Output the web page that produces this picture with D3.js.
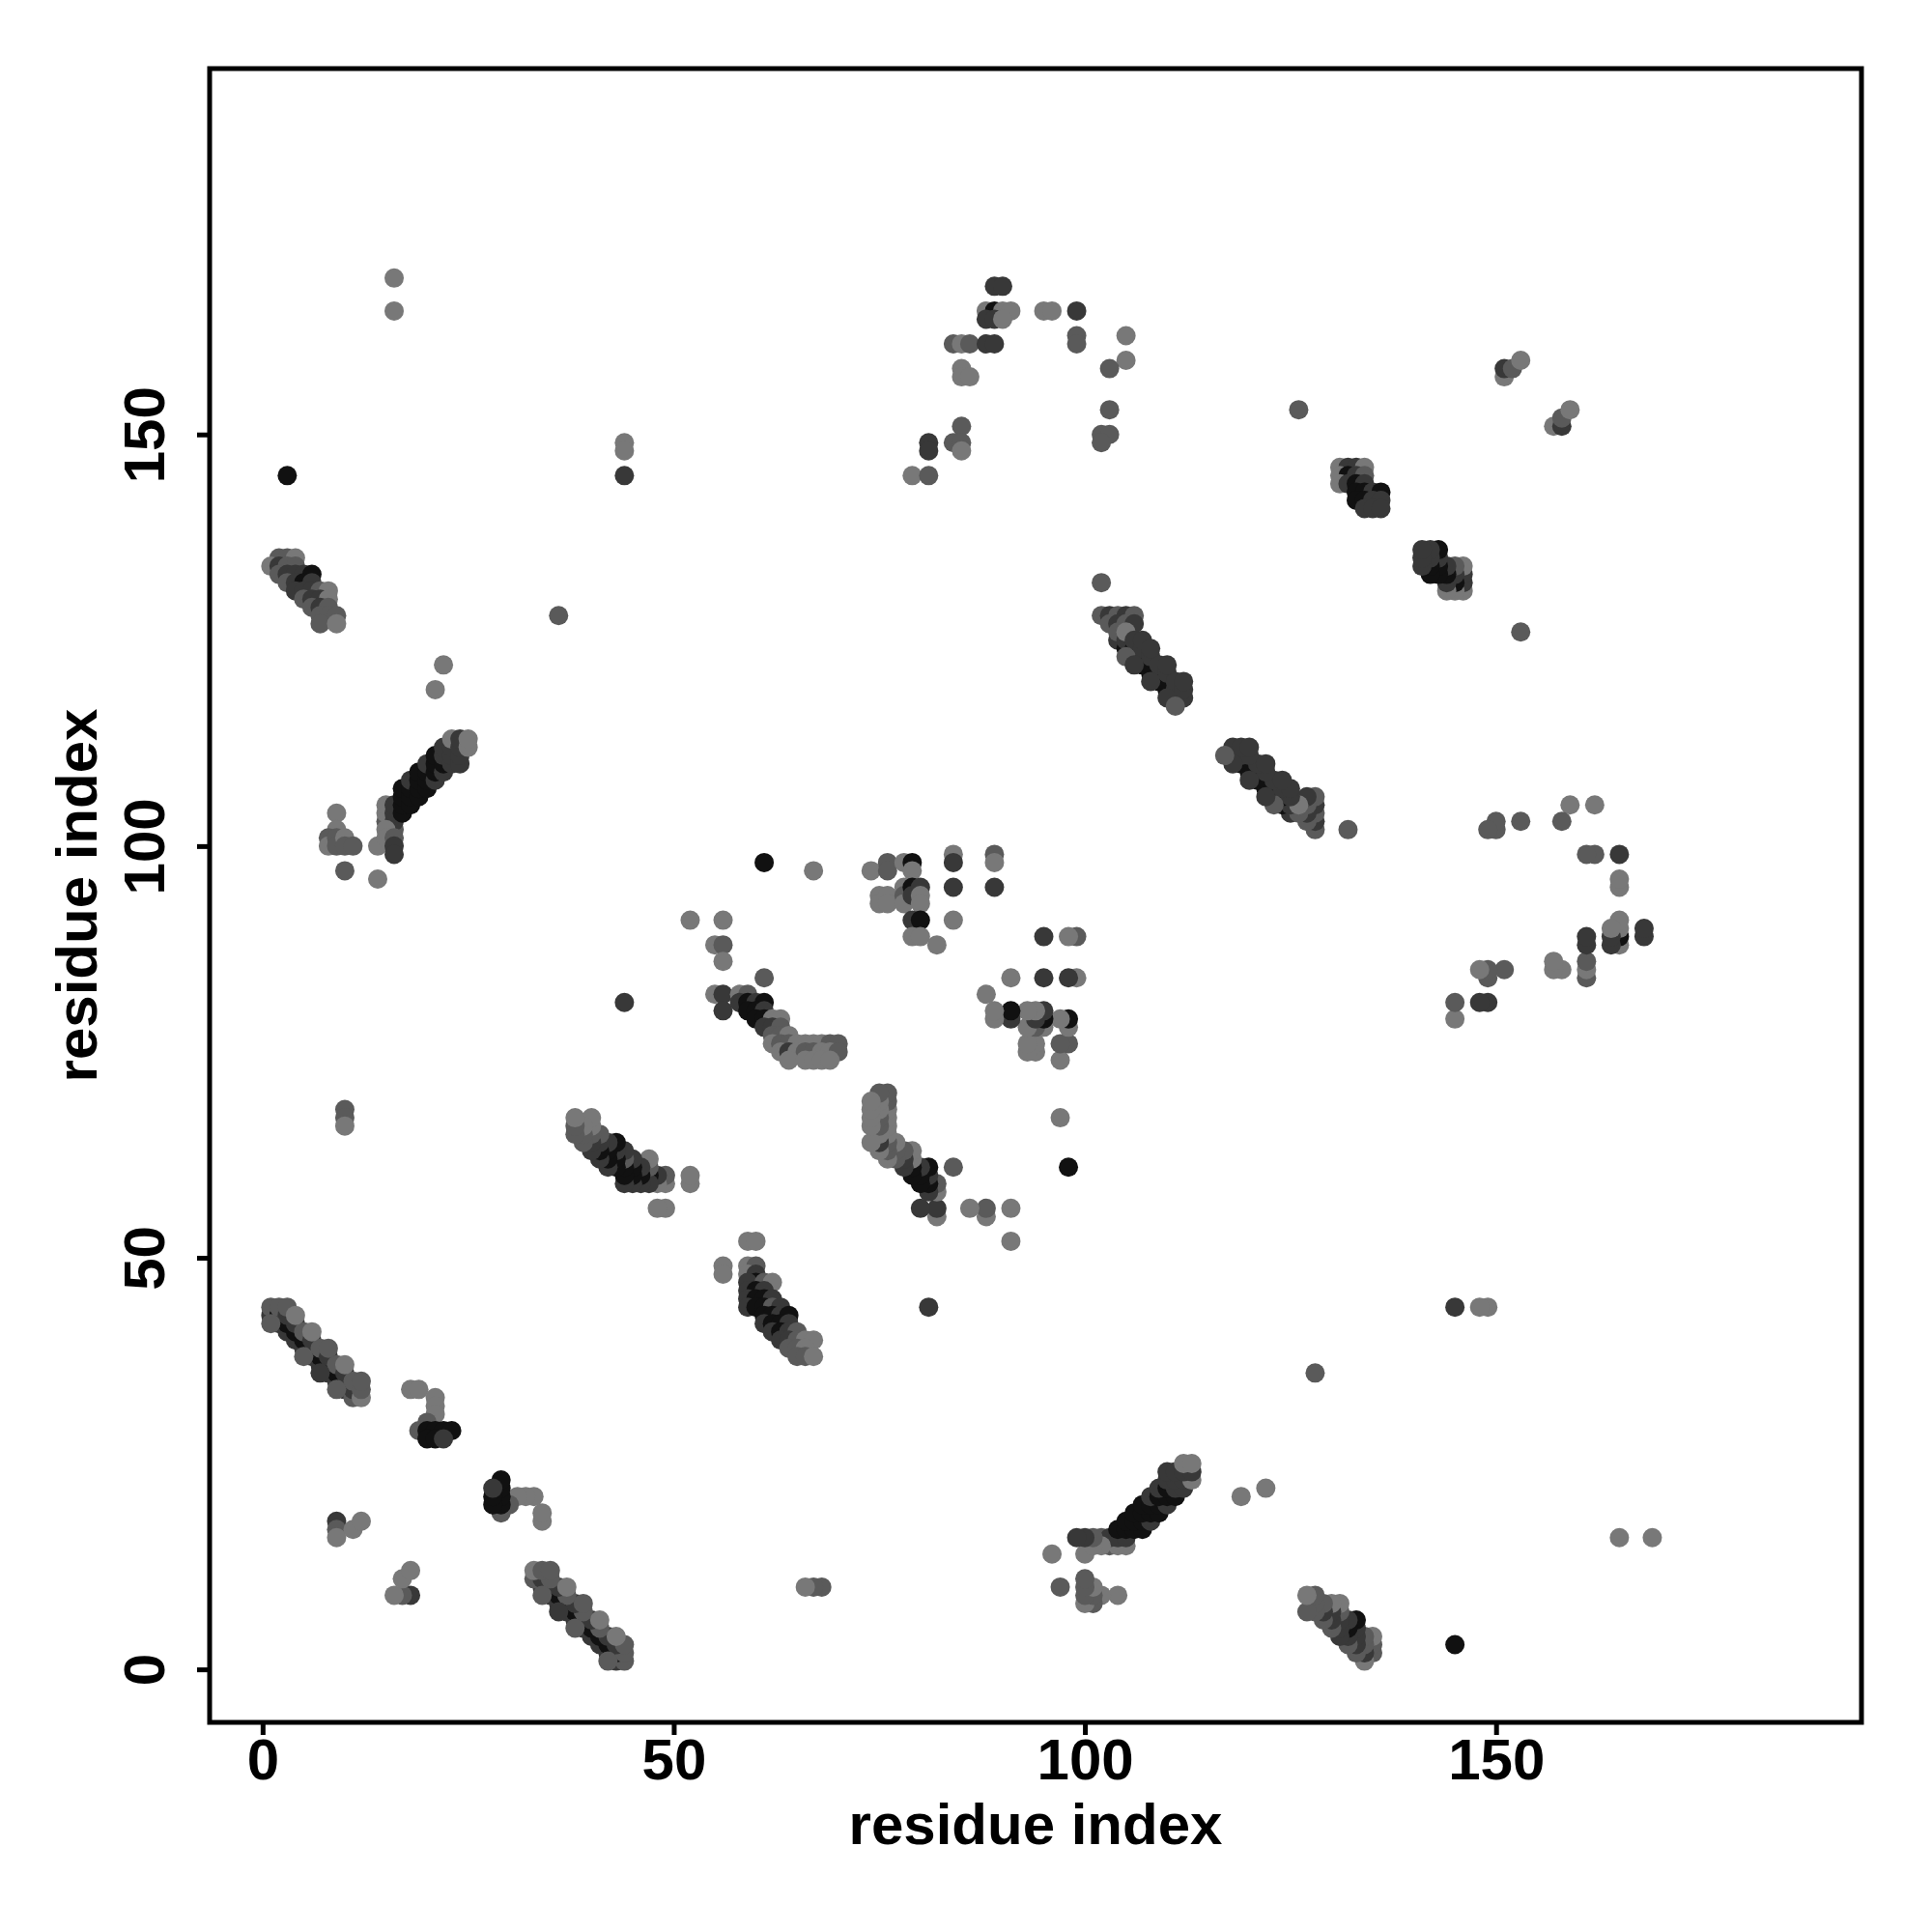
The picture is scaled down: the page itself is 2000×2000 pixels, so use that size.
<!DOCTYPE html>
<html>
<head>
<meta charset="utf-8">
<script src="https://cdn.jsdelivr.net/npm/d3@7"></script>
<style>
  html, body { margin: 0; padding: 0; background: #fff; }
  svg { display: block; }
</style>
</head>
<body>
<svg id="chart" width="2000" height="2000"></svg>
<script>
// Contact pairs [i, j, shade] with i < j (upper triangle). The contact map is
// symmetric, so every contact is drawn at (i, j) and at (j, i).
// shade: 1 = light grey ... 4 = near black
const shadeColors = ["#787878", "#5a5a5a", "#383838", "#111111"];
const xTicks = [0, 50, 100, 150];
const yTicks = [0, 50, 100, 150];
const axisDomain = [-6.44, 194.44];

const strandA = [
  [1,43,3],[2,42,3],[3,41,3],[4,40,3],[5,39,3],[6,38,3],[7,37,3],[8,36,3],[9,35,3],[10,34,3],[11,33,2],
  [1,44,2],[2,43,4],[3,42,4],[4,41,4],[5,40,4],[6,39,4],[7,38,4],[8,37,4],[9,36,4],[10,35,4],[11,34,3],[12,33,1],
  [2,44,2],[3,43,3],[4,42,3],[5,41,2],[6,40,3],[7,39,2],[8,38,3],[9,37,2],[10,36,3],[11,35,2],[12,34,2],
  [3,44,2],[4,43,1],[6,41,1],[8,39,2],[10,37,1],[12,35,2],
  [1,42,2],[5,38,2],[7,36,3],[9,34,2]
];
const clusterB = [[9,18,3],[9,17,2],[9,16,1],[11,17,1],[12,18,1]];
const clusterC = [
  [18,34,1],[19,34,1],[21,33,1],[21,32,1],[21,31,1],[20,30,2],[19,29,2],
  [20,29,4],[21,29,4],[22,29,4],[23,29,4],[20,28,4],[21,28,4],[22,28,3]
];
const clusterD = [[10,68,2],[10,67,2],[10,66,1]];
const strandE = [
  [15,103,2],[15,104,1],[15,105,1],[16,102,2],[16,103,3],[16,104,3],[16,105,3],
  [17,104,4],[17,105,4],[17,106,4],[17,107,4],
  [18,105,4],[18,106,4],[18,107,4],[18,108,3],
  [19,106,4],[19,107,4],[19,108,4],[19,109,4],
  [20,107,4],[20,108,4],[20,109,4],[20,110,3],
  [21,108,3],[21,109,4],[21,110,4],[21,111,4],
  [22,109,3],[22,110,4],[22,111,3],[22,112,3],
  [23,110,3],[23,111,3],[23,112,3],[23,113,1],
  [24,110,3],[24,111,3],[24,112,3],[24,113,3],
  [25,112,1],[25,113,1]
];
const clusterE2 = [
  [9,104,1],[9,102,1],[8,101,2],[8,100,1],[9,101,2],[9,100,2],[10,101,1],[10,100,2],[11,100,2],
  [10,97,2],[14,100,1],[14,96,1],[15,102,1],[15,101,1],[16,101,2],[16,100,3],[16,99,3]
];
const singles = [
  [16,169,1],[16,165,1],[3,145,4],[44,149,1],[44,148,1],[44,145,3],[36,128,2],
  [22,122,1],[21,119,1],[44,81,3],[61,98,4],[67,97,1],[102,132,2],[126,153,2]
];
const strandG = [
  [2,135,2],[3,135,2],[4,135,1],
  [1,134,1],[2,134,3],[3,134,2],[4,134,2],
  [2,133,2],[3,133,3],[4,133,3],[5,133,3],[6,133,4],
  [3,132,2],[4,132,3],[5,132,4],[6,132,3],
  [4,131,3],[5,131,3],[6,131,3],[7,131,2],[8,131,1],
  [5,130,2],[6,130,3],[7,130,3],[8,130,1],
  [6,129,2],[7,129,3],[8,129,2],
  [7,128,2],[8,128,2],[9,128,2],
  [7,127,2],[9,127,1]
];
const strandL = [
  [52,59,1],[52,60,1],[49,56,1],[48,56,1],[49,59,1],[49,60,2],[48,59,1],[48,60,3],[47,60,4],[47,59,3],
  [47,61,2],[47,62,1],[46,59,3],[46,60,4],[46,61,3],[45,59,3],[45,60,4],[45,61,4],[45,62,3],
  [44,59,3],[44,60,4],[44,61,4],[44,62,2],[44,63,3],[43,61,4],[43,62,4],[43,63,3],[43,64,4],
  [42,61,3],[42,62,4],[42,63,4],[42,64,3],[41,62,3],[41,63,4],[41,64,3],[41,65,2],
  [40,63,3],[40,64,3],[40,65,2],[40,66,1],[40,67,1],[39,64,2],[39,65,2],[39,66,1],
  [38,65,2],[38,66,2],[38,67,1]
];
const clusterN = [
  [52,91,1],[56,91,1],[55,88,1],[56,88,2],[56,86,1],[61,84,2],[55,82,1],[56,82,3],[56,80,3],
  [58,82,1],[59,82,2],[58,81,3],[59,81,4],[60,81,3],[61,81,4],[59,80,4],[60,80,4],[61,80,3],
  [60,79,4],[61,79,4],[62,79,1],[63,79,1],[61,78,3],[62,78,3],[63,78,2],[62,77,2],[63,77,2],[64,77,1],
  [62,76,1],[63,76,2],[64,76,2],[65,76,1],[66,76,1],[67,76,1],[68,76,1],[69,76,2],[70,76,2],
  [63,75,1],[64,75,3],[65,75,1],[66,75,2],[67,75,2],[68,75,1],[69,75,1],[70,75,2],
  [64,74,1],[66,74,1],[67,74,1],[68,74,1],[69,74,1]
];
const clusterO = [
  [74,97,1],[76,98,2],[76,97,2],[78,98,1],[79,98,4],[79,97,1],[84,99,1],[84,98,3],[89,99,2],[89,98,1],
  [75,94,1],[75,93,1],[76,94,1],[76,93,1],[78,95,1],[78,94,2],[78,93,1],[79,95,4],[79,94,3],
  [80,95,3],[80,94,1],[80,93,1],[84,95,3],[89,95,3],[79,91,3],[80,91,4],[79,89,1],[80,89,1],
  [82,88,1],[84,91,1]
];
const arcP = [
  [89,168,3],[90,168,3],
  [88,165,1],[89,165,4],[90,165,1],[91,165,1],[88,164,3],[89,164,3],[90,164,1],
  [95,165,1],[96,165,1],[99,165,3],[99,162,2],[99,161,2],
  [105,162,1],[105,159,1],[103,158,2],[103,153,2],[102,150,2],[103,150,2],[102,149,2],
  [84,161,2],[85,161,1],[86,161,2],[88,161,3],[89,161,3],
  [85,158,1],[85,157,1],[86,157,1],
  [85,151,2],[84,149,2],[85,149,2],[85,148,1],
  [81,149,3],[81,148,3],[79,145,1],[81,145,2]
];
const strandQ = [
  [102,128,2],[103,128,3],[104,128,2],[105,128,3],[106,128,2],
  [103,127,2],[104,127,3],[105,127,2],[106,127,3],
  [104,125,3],[105,124,4],[106,123,4],[107,122,4],[108,121,4],[109,120,4],[110,119,4],[111,118,3],
  [104,126,2],[105,125,3],[106,124,4],[107,123,4],[108,122,4],[109,121,4],[110,120,4],[111,119,3],[112,118,3],
  [105,126,1],[106,125,3],[107,124,3],[108,123,3],[109,122,3],[110,121,3],[111,120,3],[112,119,3],
  [107,125,3],[108,124,3],[110,122,3],[112,120,3],
  [105,123,2],[106,122,3],[108,120,3],[110,118,3],[111,117,2]
];
const clusterR = [
  [131,146,1],[132,146,3],[133,146,3],[134,146,1],[131,145,1],[132,145,4],[133,145,3],[134,145,2],
  [131,144,1],[132,144,3],[133,144,4],[134,144,3],[133,143,4],[134,143,4],[135,143,3],[136,143,4],
  [133,142,4],[134,142,4],[135,142,3],[136,142,3],[134,141,3],[135,141,3],[136,141,3]
];
const clusterS = [[151,157,1],[151,158,3],[152,158,2],[153,159,1]];

const contacts = [].concat(strandA, clusterB, clusterC, clusterD, strandE, clusterE2, singles,
  strandG, strandL, clusterN, clusterO, arcP, strandQ, clusterR, clusterS);

// cells of the symmetric map, drawn in data order
const cells = [];
contacts.forEach(([i, j, s]) => { cells.push({x: i, y: j, s}); cells.push({x: j, y: i, s}); });

const svg = d3.select("#chart");
svg.append("rect").attr("width", 2000).attr("height", 2000).attr("fill", "#fff");

const L = 217, R = 1927, T = 71, B = 1783;
const x = d3.scaleLinear().domain(axisDomain).range([L, R]);
const y = d3.scaleLinear().domain(axisDomain).range([B, T]);
const color = s => shadeColors[s - 1];

svg.append("g").selectAll("circle").data(cells).join("circle")
  .attr("cx", d => x(d.x)).attr("cy", d => y(d.y)).attr("r", 10)
  .attr("fill", d => color(d.s));

const font = "'Liberation Sans', Arial, Helvetica, sans-serif";

// x axis
const gx = svg.append("g").attr("transform", `translate(0,${B})`)
  .call(d3.axisBottom(x).tickValues(xTicks).tickSize(13).tickPadding(0).tickFormat(d3.format("d")));
gx.select(".domain").remove();
gx.selectAll(".tick line").attr("stroke", "#000").attr("stroke-width", 5);
gx.selectAll(".tick text").attr("fill", "#000").attr("font-family", font).attr("font-weight", "bold")
  .attr("font-size", 60).attr("y", 59).attr("dy", 0).attr("text-anchor", "middle");

// y axis
const gy = svg.append("g").attr("transform", `translate(${L},0)`)
  .call(d3.axisLeft(y).tickValues(yTicks).tickSize(13).tickPadding(0).tickFormat(d3.format("d")));
gy.select(".domain").remove();
gy.selectAll(".tick line").attr("stroke", "#000").attr("stroke-width", 5);
gy.selectAll(".tick text").attr("fill", "#000").attr("font-family", font).attr("font-weight", "bold")
  .attr("font-size", 60).attr("transform", "rotate(-90)").attr("x", 0).attr("y", -47).attr("dy", 0)
  .attr("text-anchor", "middle");

// frame
svg.append("rect").attr("x", L).attr("y", T).attr("width", R - L).attr("height", B - T)
  .attr("fill", "none").attr("stroke", "#000").attr("stroke-width", 5);

// axis titles
svg.append("text").attr("x", (L + R) / 2).attr("y", 1909).attr("text-anchor", "middle")
  .attr("font-family", font).attr("font-weight", "bold").attr("font-size", 60).attr("fill", "#000")
  .text("residue index");
svg.append("text").attr("transform", `translate(100,${(T + B) / 2}) rotate(-90)`).attr("text-anchor", "middle")
  .attr("font-family", font).attr("font-weight", "bold").attr("font-size", 60).attr("fill", "#000")
  .text("residue index");
</script>
</body>
</html>
